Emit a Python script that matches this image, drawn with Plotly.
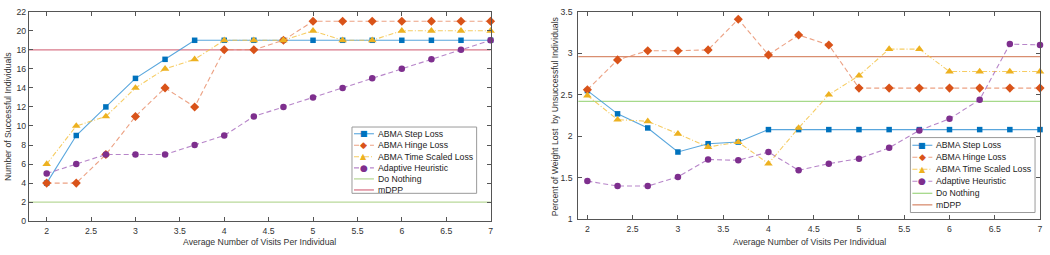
import plotly.graph_objects as go

W, H = 1050, 255

# ---------------- data ----------------
visits = [2, 7/3, 8/3, 3, 10/3, 11/3, 4, 13/3, 14/3, 5, 16/3, 17/3, 6, 19/3, 20/3, 7]

succ_step = [4, 9, 12, 15, 17, 19, 19, 19, 19, 19, 19, 19, 19, 19, 19, 19]
succ_hinge = [4, 4, 7, 11, 14, 12, 18, 18, 19, 21, 21, 21, 21, 21, 21, 21]
succ_time = [6, 10, 11, 14, 16, 17, 19, 19, 19, 20, 19, 19, 20, 20, 20, 20]
succ_adapt = [5, 6, 7, 7, 7, 8, 9, 11, 12, 13, 14, 15, 16, 17, 18, 19]
succ_nothing = 2
succ_mdpp = 18

wl_step = [2.55, 2.27, 2.10, 1.81, 1.91, 1.93, 2.08, 2.08, 2.08, 2.08, 2.08, 2.08, 2.08, 2.08, 2.08, 2.08]
wl_hinge = [2.56, 2.92, 3.03, 3.03, 3.04, 3.41, 2.98, 3.22, 3.10, 2.58, 2.58, 2.58, 2.58, 2.58, 2.58, 2.58]
wl_time = [2.49, 2.20, 2.18, 2.03, 1.87, 1.93, 1.67, 2.10, 2.50, 2.73, 3.05, 3.05, 2.78, 2.78, 2.78, 2.78]
wl_adapt = [1.46, 1.40, 1.40, 1.51, 1.72, 1.71, 1.81, 1.59, 1.67, 1.73, 1.86, 2.07, 2.21, 2.44, 3.11, 3.10]
wl_nothing = 2.42
wl_mdpp = 2.96

series_names = ["ABMA Step Loss", "ABMA Hinge Loss", "ABMA Time Scaled Loss",
                "Adaptive Heuristic", "Do Nothing", "mDPP"]
x_ticks = [2, 2.5, 3, 3.5, 4, 4.5, 5, 5.5, 6, 6.5, 7]
x_tick_labels = ["2", "2.5", "3", "3.5", "4", "4.5", "5", "5.5", "6", "6.5", "7"]
left_y_ticks = list(range(0, 23, 2))
right_y_ticks = [1, 1.5, 2, 2.5, 3, 3.5]
right_y_labels = ["1", "1.5", "2", "2.5", "3", "3.5"]

x_title = "Average Number of Visits Per Individual"
left_y_title = "Number of Successful Individuals"
right_y_title = "Percent of Weight Lost  by Unsuccessful Individuals"

# ---------------- styles ----------------
FONT = "Liberation Sans, Arial, sans-serif"
FS = 8.7
styles = [
    dict(mc="#0072BD", lc="rgba(60,150,215,0.85)", dash="solid", sym="square", ms=5.5, glyph="\u25A0", gs=8),
    dict(mc="#D95319", lc="rgba(230,130,90,0.75)", dash="5px,3px", sym="diamond", ms=7, glyph="\u25C6", gs=9),
    dict(mc="#EDB120", lc="rgba(245,195,70,0.85)", dash="5px,2px,1px,2px", sym="triangle-up", ms=7.5, glyph="\u25B2", gs=8),
    dict(mc="#7E2F8E", lc="rgba(175,120,195,0.9)", dash="5px,3px", sym="circle", ms=6.5, glyph="\u25CF", gs=9),
]
nothing_c = ["#b9d99a", "#a6d98a"]
mdpp_c = ["#d9788a", "#d98e70"]

fig = go.Figure()

def px(x):
    return x / W

def py(y):
    return 1 - y / H

panels = [
    dict(xa="x", ya="y", ys=[succ_step, succ_hinge, succ_time, succ_adapt],
         nothing=succ_nothing, mdpp=succ_mdpp),
    dict(xa="x2", ya="y2", ys=[wl_step, wl_hinge, wl_time, wl_adapt],
         nothing=wl_nothing, mdpp=wl_mdpp),
]

shapes = []
annotations = []

for pi, p in enumerate(panels):
    for s, ys, name in zip(styles, p["ys"], series_names):
        fig.add_trace(go.Scatter(
            x=visits, y=ys, mode="lines+markers", name=name, showlegend=False,
            xaxis=p["xa"], yaxis=p["ya"], cliponaxis=False,
            line=dict(color=s["lc"], width=1.1, dash=s["dash"]),
            marker=dict(symbol=s["sym"], size=s["ms"], color=s["mc"], line=dict(width=0)),
        ))
    xd = p["xa"] + " domain"
    shapes.append(dict(type="line", xref=xd, x0=0, x1=1, yref=p["ya"], y0=p["nothing"], y1=p["nothing"],
                       line=dict(color=nothing_c[pi], width=1.3), layer="below"))
    shapes.append(dict(type="line", xref=xd, x0=0, x1=1, yref=p["ya"], y0=p["mdpp"], y1=p["mdpp"],
                       line=dict(color=mdpp_c[pi], width=1.3), layer="below"))

# ---------------- manual legends ----------------
legends = [
    dict(box=(353, 127, 478, 196), rows=[134, 146, 158, 169.5, 181, 192.5], l0=355, l1=375, tx=377, pi=0),
    dict(box=(913, 138, 1038, 216), rows=[146, 158.5, 171, 183.5, 196, 208], l0=915, l1=935, tx=937, pi=1),
]
for lg in legends:
    x0, y0, x1, y1 = lg["box"]
    shapes.append(dict(type="rect", xref="paper", yref="paper", x0=px(x0), x1=px(x1), y0=py(y1), y1=py(y0),
                       line=dict(color="#9a9a9a", width=1), fillcolor="white", layer="above"))
    for i, (name, ry) in enumerate(zip(series_names, lg["rows"])):
        if i < 4:
            s = styles[i]
            shapes.append(dict(type="line", xref="paper", yref="paper", x0=px(lg["l0"]), x1=px(lg["l1"]),
                               y0=py(ry), y1=py(ry), line=dict(color=s["lc"], width=1.1, dash=s["dash"]),
                               layer="above"))
            annotations.append(dict(xref="paper", yref="paper", x=px((lg["l0"] + lg["l1"]) / 2), y=py(ry),
                                    text=s["glyph"], showarrow=False, xanchor="center", yanchor="middle",
                                    font=dict(size=s["gs"], color=s["mc"], family="DejaVu Sans")))
        else:
            c = nothing_c[lg["pi"]] if i == 4 else mdpp_c[lg["pi"]]
            shapes.append(dict(type="line", xref="paper", yref="paper", x0=px(lg["l0"]), x1=px(lg["l1"]),
                               y0=py(ry), y1=py(ry), line=dict(color=c, width=1.3), layer="above"))
        annotations.append(dict(xref="paper", yref="paper", x=px(lg["tx"]), y=py(ry), text=name,
                                showarrow=False, xanchor="left", yanchor="middle",
                                font=dict(size=FS, color="#222", family=FONT)))

# ---------------- axis titles ----------------
annotations.append(dict(xref="paper", yref="paper", x=px(260.5), y=py(246.5), text=x_title, showarrow=False,
                        xanchor="center", yanchor="middle", font=dict(size=FS, color="#333", family=FONT)))
annotations.append(dict(xref="paper", yref="paper", x=px(811.5), y=py(246.5), text=x_title, showarrow=False,
                        xanchor="center", yanchor="middle", font=dict(size=FS, color="#333", family=FONT)))
annotations.append(dict(xref="paper", yref="paper", x=px(8.5), y=py(116), text=left_y_title, showarrow=False,
                        textangle=-90, xanchor="center", yanchor="middle", font=dict(size=FS, color="#333", family=FONT)))
annotations.append(dict(xref="paper", yref="paper", x=px(557.5), y=py(116), text=right_y_title, showarrow=False,
                        textangle=-90, xanchor="center", yanchor="middle", font=dict(size=FS, color="#333", family=FONT)))

axis_common = dict(showgrid=False, zeroline=False, showline=True, linecolor="#555", linewidth=1,
                   mirror="allticks", ticks="inside", ticklen=4, tickcolor="#555", tickwidth=1,
                   tickfont=dict(size=FS, color="#333", family=FONT))

fig.update_layout(
    width=W, height=H, margin=dict(l=0, r=0, t=0, b=0),
    paper_bgcolor="white", plot_bgcolor="white", showlegend=False,
    xaxis=dict(domain=[px(29), px(492)], range=[1.8, 7], anchor="y", ticklabelstandoff=1,
               tickvals=x_ticks, ticktext=x_tick_labels, **axis_common),
    yaxis=dict(domain=[py(225), py(7)], range=[0, 22], anchor="x",
               tickvals=left_y_ticks, **axis_common),
    xaxis2=dict(domain=[px(580), px(1043)], range=[1.9, 7], anchor="y2", ticklabelstandoff=1,
                tickvals=x_ticks, ticktext=x_tick_labels, **axis_common),
    yaxis2=dict(domain=[py(223), py(7)], range=[1, 3.5], anchor="x2", ticklabelstandoff=3,
                tickvals=right_y_ticks, ticktext=right_y_labels, **axis_common),
    shapes=shapes, annotations=annotations,
)

fig.write_html("out.html", config={"displayModeBar": False},
               post_script="document.body.style.margin='0px';document.body.style.overflow='hidden';")
